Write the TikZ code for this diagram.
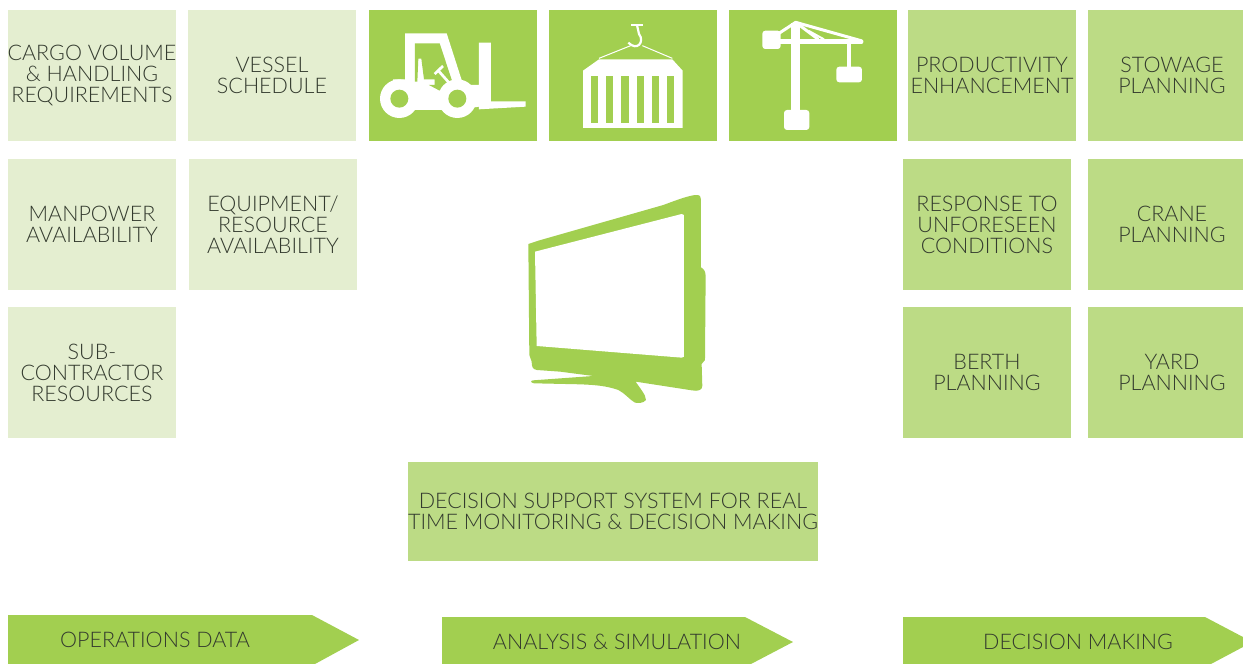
\documentclass[tikz,border=0pt]{standalone}
\usepackage{fontspec}
\setmainfont{Lato}[UprightFont=* Light]
\usetikzlibrary{positioning}
\definecolor{leafgreen}{HTML}{A2CF50}
\definecolor{midgreen}{HTML}{BCDB85}
\definecolor{palegreen}{HTML}{E4EED0}
\definecolor{inkgrey}{HTML}{333A2E}
\tikzset{
	block/.style={rectangle, inner sep=0cm, minimum width=168pt, minimum height=131pt, align=center, text=inkgrey, font=\fontsize{21.5}{21}\selectfont},
	paleblock/.style={block, fill=palegreen},
	midblock/.style={block, fill=midgreen},
	iconblock/.style={block, fill=leafgreen},
	tag/.style={rectangle, inner sep=0cm, text=inkgrey, font=\fontsize{21.5}{21}\selectfont}
}
\begin{document}
\begin{tikzpicture}[x=1pt, y=-1pt]
	\useasboundingbox (0,0) rectangle (1243,664);
	\node (cargo) at (92,75.5) [paleblock] {CARGO VOLUME\\\&~HANDLING\\REQUIREMENTS};
	\node (vessel) at (272,75.5) [paleblock] {VESSEL\\SCHEDULE};
	\node (forklift) at (453,75.5) [iconblock] {};
	\node (container) at (633,75.5) [iconblock] {};
	\node (crane) at (813,75.5) [iconblock] {};
	\node (productivity) at (992,75.5) [midblock] {PRODUCTIVITY\\ENHANCEMENT};
	\node (stowage) at (1172,75.5) [midblock] {STOWAGE\\PLANNING};
	\node (manpower) at (92,224.5) [paleblock] {MANPOWER\\AVAILABILITY};
	\node (equipment) at (273,224.5) [paleblock] {EQUIPMENT/\\RESOURCE\\AVAILABILITY};
	\node (response) at (987,224.5) [midblock] {RESPONSE TO\\UNFORESEEN\\CONDITIONS};
	\node (craneplan) at (1172,224.5) [midblock] {CRANE\\PLANNING};
	\node (subcontract) at (92,372.5) [paleblock] {SUB-\\CONTRACTOR\\RESOURCES};
	\node (berth) at (987,372.5) [midblock] {BERTH\\PLANNING};
	\node (yard) at (1172,372.5) [midblock] {YARD\\PLANNING};
	\node (support) at (613,511.5) [midblock, minimum width=404pt, minimum height=99pt] {DECISION SUPPORT SYSTEM FOR REAL\\TIME MONITORING \& DECISION MAKING};
	\fill[leafgreen] (8,615) -- (312,615) -- (359,640) -- (315,664) -- (8,664) -- cycle;
	\fill[leafgreen] (442,617) -- (745,617) -- (793,642) -- (751,664) -- (442,664) -- cycle;
	\fill[leafgreen] (903,617) -- (1205,617) -- (1243,637) -- (1243,647) -- (1211,664) -- (903,664) -- cycle;
	\node (opsdata) at (155,640) [tag] {OPERATIONS DATA};
	\node (analysis) at (617,642) [tag] {ANALYSIS \& SIMULATION};
	\node (deciding) at (1078,642) [tag] {DECISION MAKING};
	\begin{scope}[shift={(369,0)}, x=0.3333pt, y=-0.3333pt]
		\fill[white] (72,238) -- (108,238) -- (108,100) -- (233,100) -- (278,240) -- (305,255) -- (330,255) -- (330,128) -- (366,128) -- (366,304) -- (470,304) -- (470,320) -- (330,328) -- (330,320) -- (265,330) -- (91,330) -- (72,300) -- cycle;
		\fill[leafgreen] (138,130) -- (212,130) -- (250,245) -- (212,272) -- (180,255) -- (197,255) -- (197,238) -- (165,238) -- (157,176) -- (148,176) -- (145,245) -- (138,245) -- cycle;
		\draw[white, line width=2.7pt] (208,212) -- (240,248);
		\draw[white, line width=2.7pt] (197,222) -- (222,198);
		\fill[white] (91,296) circle (58);
		\fill[white] (265,296) circle (58);
		\fill[leafgreen] (91,296) circle (27);
		\fill[leafgreen] (265,296) circle (27);
	\end{scope}
	\begin{scope}[shift={(549,0)}, x=0.3333pt, y=-0.3333pt]
		\fill[white] (150,178) -- (370,178) -- (401,212) -- (401,384) -- (102,384) -- (102,212) -- cycle;
		\foreach \slot in {125,171,217,263,308,354}
			\fill[leafgreen] (\slot,228) rectangle ++(22,142);
		\draw[white, line width=1pt] (150,175) -- (245,137) (280,137) -- (370,175);
		\draw[white, line width=2.7pt] (247,75) -- (283,75);
		\draw[white, line width=2.2pt] (264,75) -- (270,102) .. controls (288,125) and (265,155) .. (238,128);
	\end{scope}
	\begin{scope}[shift={(729,0)}, x=0.3333pt, y=-0.3333pt]
		\fill[white] (187,70) rectangle (212,335);
		\fill[white, rounded corners=3pt] (165,330) rectangle (241,390);
		\fill[white, rounded corners=3pt] (100,92) rectangle (155,147);
		\fill[white, rounded corners=3pt] (322,200) rectangle (399,247);
		\fill[white] (355,125) rectangle (367,205);
		\draw[white, line width=5pt, line cap=round] (150,126) -- (396,126);
		\draw[white, line width=3pt, line join=round] (150,100) -- (200,67) -- (396,122);
		\draw[white, line width=3pt] (200,67) -- (268,118);
		\draw[white, line width=2pt] (238,92) -- (285,118);
	\end{scope}
	\begin{scope}[shift={(510,180)}, x=0.3333pt, y=-0.3333pt]
		\fill[leafgreen] (55,192) -- (85,182) -- (460,75) .. controls (500,60) and (540,45) .. (560,45) .. controls (570,45) and (573,50) .. (573,58) -- (573,262) .. controls (583,268) and (587,275) .. (587,290) -- (585,540) -- (575,552) -- (577,618) .. controls (577,630) and (565,635) .. (545,631) -- (377,605) .. controls (390,625) and (408,645) .. (408,660) .. controls (400,670) and (385,670) .. (375,668) .. controls (360,660) and (345,640) .. (325,630) .. controls (290,618) and (260,615) .. (210,613) -- (72,610) .. controls (62,608) and (60,602) .. (70,601) -- (250,588) -- (150,575) -- (80,570) .. controls (68,568) and (65,560) .. (65,545) -- (58,525) -- cycle;
		\fill[white] (75,215) -- (515,102) -- (522,105) -- (522,530) -- (515,533) -- (80,498) -- cycle;
	\end{scope}
\end{tikzpicture}
\end{document}
